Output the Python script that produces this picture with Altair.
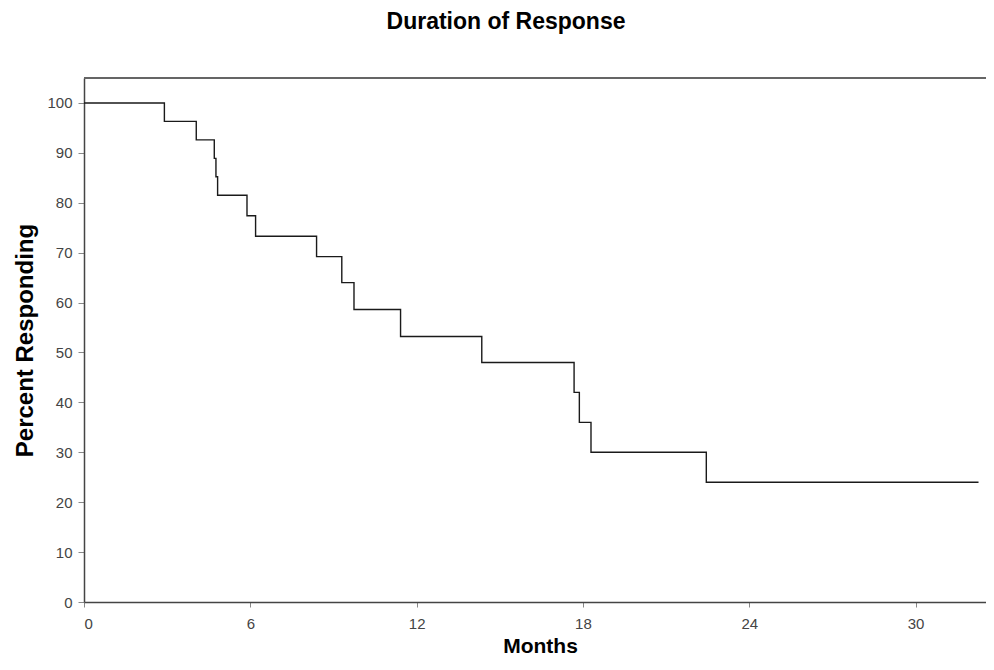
import altair as alt
import pandas as pd

months = [0, 2.90, 4.05, 4.70, 4.76, 4.82, 5.88, 6.19, 8.39, 9.30, 9.74,
          11.42, 14.35, 17.68, 17.87, 18.29, 22.45, 32.27]
percent = [100, 96.3, 92.6, 88.9, 85.2, 81.5, 77.4, 73.3, 69.2, 64.0, 58.6,
           53.2, 48.0, 42.0, 36.0, 30.0, 24.0, 24.0]
x_ticks = [0, 6, 12, 18, 24, 30]
y_ticks = [0, 10, 20, 30, 40, 50, 60, 70, 80, 90, 100]

df = pd.DataFrame({"Months": months, "Percent": percent})

FONT = "Liberation Sans"
W, H = 902, 524

line = alt.Chart(df).mark_line(
    interpolate="step-after", color="#1a1a1a", strokeWidth=1.4
).encode(
    x=alt.X("Months:Q",
            scale=alt.Scale(domain=[0, 32.54], nice=False, zero=False),
            axis=alt.Axis(values=x_ticks, title="Months", grid=False,
                          titleFontSize=21, titleFont=FONT, titleFontWeight="bold",
                          titleColor="#000", titleX=456, titleY=50,
                          titleBaseline="alphabetic",
                          labelFont=FONT, labelFontSize=15, labelColor="#444",
                          labelPadding=9, tickSize=5, tickColor="#888",
                          domainColor="#444", domainWidth=1.5)),
    y=alt.Y("Percent:Q",
            scale=alt.Scale(domain=[0, 105], nice=False),
            axis=alt.Axis(values=y_ticks, title="Percent Responding", grid=False,
                          titleFontSize=24, titleFont=FONT, titleFontWeight="bold",
                          titleColor="#000", titleX=-52, titleY=H / 2,
                          titleBaseline="alphabetic", titleAngle=-90,
                          titleAlign="center",
                          labelFont=FONT, labelFontSize=15, labelColor="#444",
                          labelPadding=6, tickSize=6, tickColor="#888",
                          domainColor="#444", domainWidth=1.5)),
)

top = alt.Chart(df).mark_rule(color="#666", strokeWidth=1.5).encode(
    y=alt.value(0), x=alt.value(0), x2=alt.value(W)
)

chart = alt.layer(line, top).properties(
    width=W, height=H,
    title=alt.TitleParams("Duration of Response", font=FONT, fontSize=23,
                          fontWeight="bold", color="#000", anchor="middle",
                          baseline="alphabetic", offset=25, dx=-29),
    autosize=alt.AutoSizeParams(type="none"),
    padding={"left": 76, "top": 70, "right": 0, "bottom": 55},
).configure_view(strokeWidth=0, stroke="transparent").configure(background="white")

chart.save("out.html", embed_options={"renderer": "svg", "actions": False})
